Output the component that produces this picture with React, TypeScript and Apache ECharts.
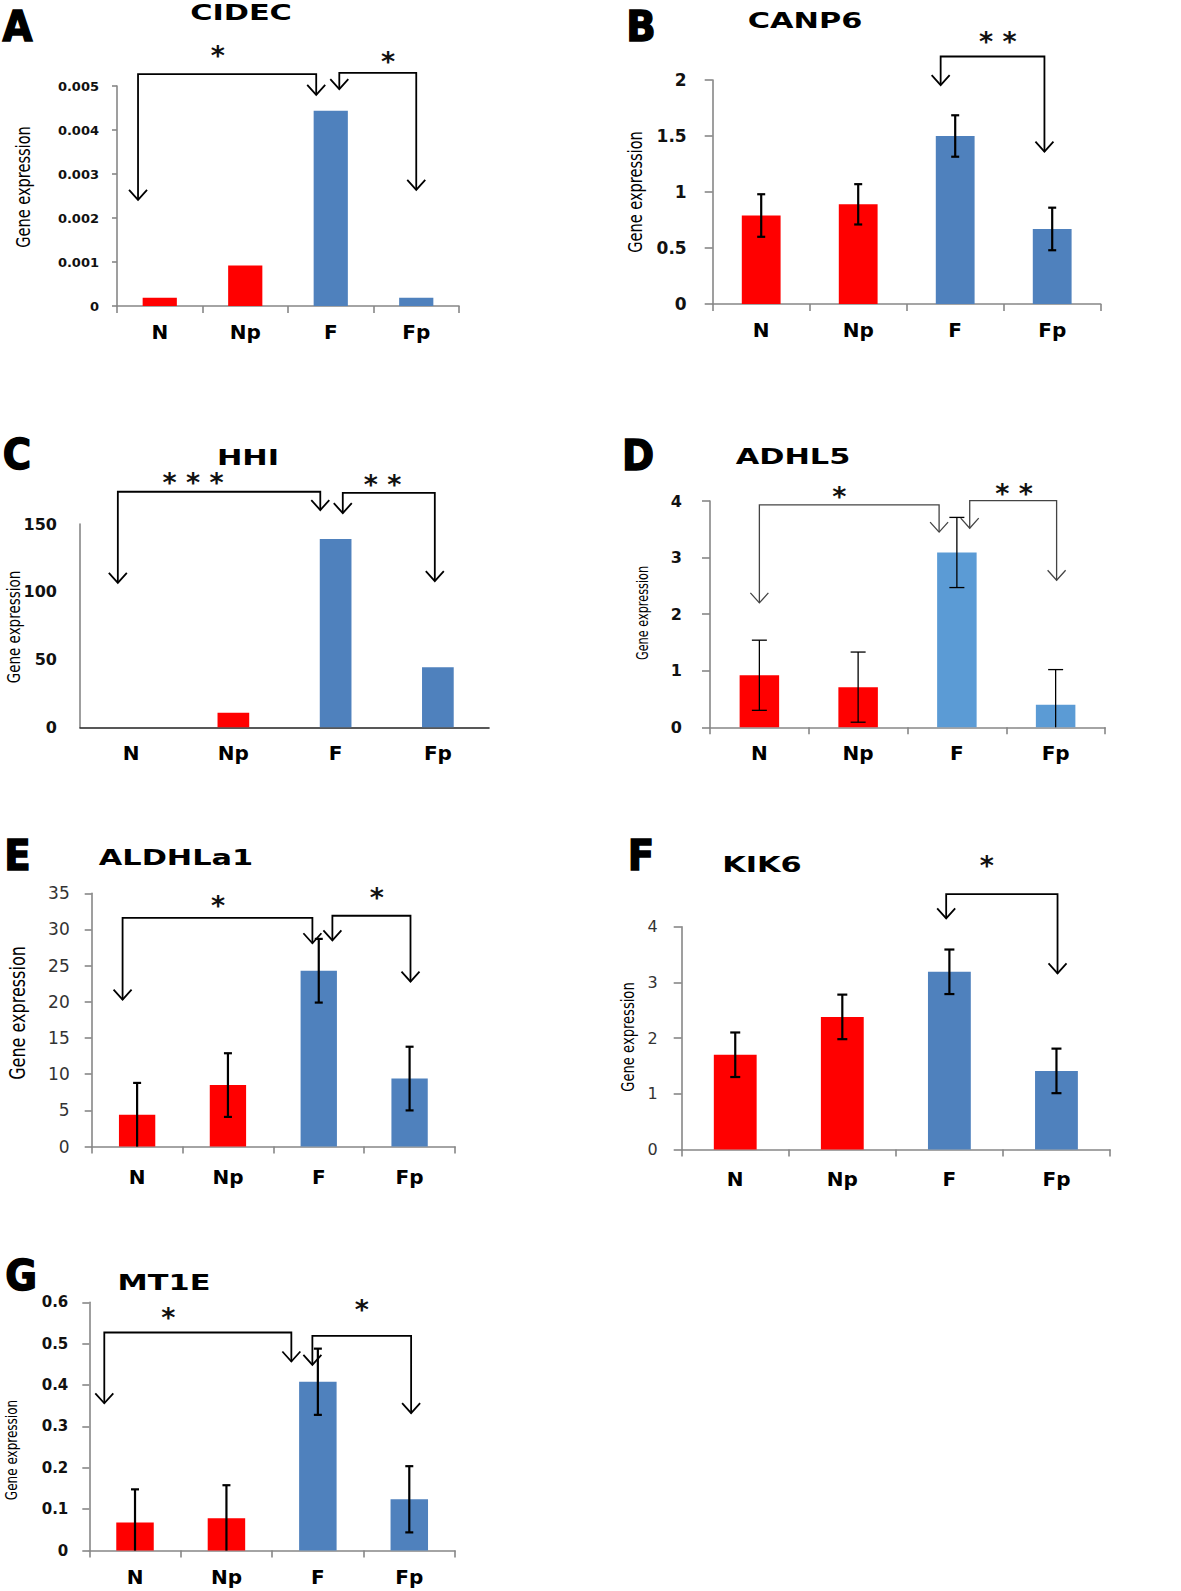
import React, { useEffect, useRef } from "react";
import * as echarts from "echarts";

// ---------------- data ----------------
const categories = ["N", "Np", "F", "Fp"];
const titles = ["CIDEC", "CANP6", "HHI", "ADHL5", "ALDHLa1", "KIK6", "MT1E"];
const letters = ["A", "B", "C", "D", "E", "F", "G"];

const colorsStd = ["#ff0000", "#ff0000", "#4f81bd", "#4f81bd"];
const colorsLight = ["#ff0000", "#ff0000", "#5b9bd5", "#5b9bd5"];

const valuesA = [0.00019, 0.00092, 0.00444, 0.00019];
const valuesB = [0.79, 0.89, 1.5, 0.67];
const errorsB = [0.19, 0.18, 0.185, 0.19];
const valuesC = [0, 10.8, 138.9, 44.3];
const valuesD = [0.92, 0.71, 3.09, 0.4];
const errorsD = [0.62, 0.62, 0.62, 0.62];
const valuesE = [4.4, 8.5, 24.3, 9.4];
const errorsE = [4.4, 4.4, 4.4, 4.4];
const valuesF = [1.7, 2.38, 3.19, 1.41];
const errorsF = [0.4, 0.4, 0.4, 0.4];
const valuesG = [0.068, 0.078, 0.408, 0.124];
const errorsG = [0.08, 0.08, 0.08, 0.08];

const yMax = [0.005, 2, 150, 4, 35, 4, 0.6];
const yInterval = [0.001, 0.5, 50, 1, 5, 1, 0.1];

// significance brackets: x in category units (0..4), y in value units
const bracketsA = [
  { x1: 0.246, x2: 2.33, y: 0.00527, t1: 0.00241, t2: 0.0048, star: "*", sx: 1.18, sy: 0.00582 },
  { x1: 2.6, x2: 3.5, y: 0.0053, t1: 0.00493, t2: 0.00264, star: "*", sx: 3.17, sy: 0.0057 },
];
const bracketsB = [
  { x1: 2.35, x2: 3.42, y: 2.21, t1: 1.955, t2: 1.36, star: "* *", sx: 2.94, sy: 2.4 },
];
const bracketsC = [
  { x1: 0.37, x2: 2.35, y: 173.8, t1: 106.5, t2: 160.3, star: "* * *", sx: 1.105, sy: 185.4 },
  { x1: 2.57, x2: 3.47, y: 172.9, t1: 158, t2: 107.9, star: "* *", sx: 2.96, sy: 183.6 },
];
const bracketsD = [
  { x1: 0.5, x2: 2.32, y: 3.93, t1: 2.2, t2: 3.45, star: "*", sx: 1.31, sy: 4.19 },
  { x1: 2.63, x2: 3.51, y: 4.005, t1: 3.52, t2: 2.6, star: "* *", sx: 3.08, sy: 4.23 },
];
const bracketsE = [
  { x1: 0.34, x2: 2.43, y: 31.6, t1: 20.3, t2: 28.1, star: "*", sx: 1.39, sy: 34.2 },
  { x1: 2.65, x2: 3.51, y: 31.9, t1: 28.5, t2: 22.8, star: "*", sx: 3.14, sy: 35.2 },
];
const bracketsF = [
  { x1: 2.47, x2: 3.51, y: 4.585, t1: 4.15, t2: 3.16, star: "*", sx: 2.85, sy: 5.21 },
];
const bracketsG = [
  { x1: 0.164, x2: 2.21, y: 0.527, t1: 0.356, t2: 0.457, star: "*", sx: 0.865, sy: 0.578 },
  { x1: 2.44, x2: 3.52, y: 0.519, t1: 0.449, t2: 0.332, star: "*", sx: 2.98, sy: 0.598 },
];

// ---------------- layout ----------------
const FONT = "'DejaVu Sans', Verdana, sans-serif";
const NARROW = "'DejaVu Sans Condensed', 'DejaVu Sans', sans-serif";
const AXIS_GRAY = "#878787";

const layout = [
  { left: 117, top: 86, width: 342, height: 220, tickBold: true, tickSize: 13, tickMargin: 18, tickLen: 5, xTicks: true, xColor: AXIS_GRAY, xMargin: 16, ylx: 23, yly: 187, ylSize: 20, cap: 0, elw: 0, bw: "40%", tx: 241, ty: 12, lx: 17.5, ly: 26, bColor: "#000", bLw: 1.8 },
  { left: 712.7, top: 80, width: 388, height: 224, tickBold: true, tickSize: 17, tickMargin: 26, tickLen: 8, xTicks: true, xColor: AXIS_GRAY, xMargin: 16, ylx: 635, yly: 192, ylSize: 20, cap: 4, elw: 2.2, bw: "40%", tx: 805, ty: 20, lx: 641, ly: 25.5, bColor: "#000", bLw: 1.8 },
  { left: 80, top: 524, width: 409, height: 203.3, tickBold: true, tickSize: 16, tickMargin: 23, tickLen: 0, xTicks: false, xColor: "#222", xMargin: 16, ylx: 13, yly: 627, ylSize: 18.5, cap: 0, elw: 0, bw: "31%", tx: 248, ty: 457, lx: 17, ly: 453.5, bColor: "#000", bLw: 1.8 },
  { left: 710, top: 501, width: 395, height: 226.3, tickBold: true, tickSize: 16, tickMargin: 28, tickLen: 8, xTicks: true, xColor: AXIS_GRAY, xMargin: 16, ylx: 643, yly: 613, ylSize: 15.5, cap: 7.5, elw: 1.3, bw: "40%", tx: 793, ty: 456, lx: 638, ly: 454.5, bColor: "#444", bLw: 1.3 },
  { left: 91.7, top: 893.3, width: 363.3, height: 253.3, tickBold: false, tickSize: 17, tickMargin: 22, tickLen: 7, xTicks: true, xColor: AXIS_GRAY, xMargin: 20, ylx: 17, yly: 1013, ylSize: 22, cap: 4, elw: 2.2, bw: "40%", tx: 176, ty: 857, lx: 17.5, ly: 855, bColor: "#000", bLw: 1.8 },
  { left: 681.7, top: 926.7, width: 428.3, height: 222.7, tickBold: false, tickSize: 16, tickMargin: 24, tickLen: 8, xTicks: true, xColor: AXIS_GRAY, xMargin: 20, ylx: 628, yly: 1037, ylSize: 18, cap: 5, elw: 2.2, bw: "40%", tx: 762, ty: 864, lx: 641, ly: 855, bColor: "#000", bLw: 1.8 },
  { left: 89.3, top: 1302.3, width: 365.7, height: 248.3, tickBold: true, tickSize: 15, tickMargin: 21, tickLen: 7, xTicks: true, xColor: AXIS_GRAY, xMargin: 16, ylx: 12, yly: 1450, ylSize: 16.5, cap: 4, elw: 2.2, bw: "41%", tx: 164, ty: 1282, lx: 21, ly: 1274.5, bColor: "#000", bLw: 1.8 },
];

const panelData = [
  { values: valuesA, errors: null as number[] | null, colors: colorsStd, brackets: bracketsA },
  { values: valuesB, errors: errorsB, colors: colorsStd, brackets: bracketsB },
  { values: valuesC, errors: null, colors: colorsStd, brackets: bracketsC },
  { values: valuesD, errors: errorsD, colors: colorsLight, brackets: bracketsD },
  { values: valuesE, errors: errorsE, colors: colorsStd, brackets: bracketsE },
  { values: valuesF, errors: errorsF, colors: colorsStd, brackets: bracketsF },
  { values: valuesG, errors: errorsG, colors: colorsStd, brackets: bracketsG },
];

function errorRender(capHalf: number, lw: number) {
  return (_params: any, api: any) => {
    const i = api.value(0);
    const v = api.value(1);
    const e = api.value(2);
    const hi = api.coord([i, v + e]);
    const lo = api.coord([i, Math.max(0, v - e)]);
    const st = { stroke: "#000", lineWidth: lw };
    const children: any[] = [
      { type: "line", shape: { x1: hi[0], y1: hi[1], x2: lo[0], y2: lo[1] }, style: st },
      { type: "line", shape: { x1: hi[0] - capHalf, y1: hi[1], x2: hi[0] + capHalf, y2: hi[1] }, style: st },
    ];
    if (v - e > 0) {
      children.push({ type: "line", shape: { x1: lo[0] - capHalf, y1: lo[1], x2: lo[0] + capHalf, y2: lo[1] }, style: st });
    }
    return { type: "group", children };
  };
}

function buildOption() {
  const grid: any[] = [];
  const xAxis: any[] = [];
  const yAxis: any[] = [];
  const series: any[] = [];
  const graphic: any[] = [];

  panelData.forEach((p, k) => {
    const L = layout[k];
    grid.push({ left: L.left, top: L.top, width: L.width, height: L.height, containLabel: false });
    xAxis.push({
      type: "category",
      gridIndex: k,
      data: categories,
      axisLine: { show: true, lineStyle: { color: L.xColor, width: 1.6 } },
      axisTick: { show: L.xTicks, length: 7, lineStyle: { color: AXIS_GRAY, width: 1.6 } },
      axisLabel: { margin: L.xMargin, fontFamily: FONT, fontWeight: "bold", fontSize: 20, color: "#000" },
      splitLine: { show: false },
    });
    yAxis.push({
      type: "value",
      gridIndex: k,
      min: 0,
      max: yMax[k],
      interval: yInterval[k],
      axisLine: { show: true, lineStyle: { color: AXIS_GRAY, width: 1.6 } },
      axisTick: { show: L.tickLen > 0, length: L.tickLen, lineStyle: { color: AXIS_GRAY, width: 1.6 } },
      axisLabel: {
        margin: L.tickMargin,
        fontFamily: FONT,
        fontWeight: L.tickBold ? "bold" : "normal",
        fontSize: L.tickSize,
        color: L.tickBold ? "#111" : "#333",
      },
      splitLine: { show: false },
    });
    series.push({
      type: "bar",
      xAxisIndex: k,
      yAxisIndex: k,
      barWidth: L.bw,
      z: 2,
      data: p.values.map((v, i) => ({ value: v, itemStyle: { color: p.colors[i] } })),
    });
    if (p.errors) {
      series.push({
        type: "custom",
        xAxisIndex: k,
        yAxisIndex: k,
        z: 5,
        encode: { x: 0, y: 1 },
        renderItem: errorRender(L.cap, L.elw),
        data: p.values.map((v, i) => [i, v, p.errors![i]]),
      });
    }

    const X = (u: number) => L.left + (u * L.width) / 4;
    const Y = (v: number) => L.top + L.height * (1 - v / yMax[k]);
    const bst = { stroke: L.bColor, lineWidth: L.bLw, fill: null };
    const head = (x: number, y: number) => ({
      type: "polyline",
      z: 100,
      shape: { points: [[x - 9, y - 10], [x, y], [x + 9, y - 10]] },
      style: bst,
    });
    p.brackets.forEach((b) => {
      graphic.push({
        type: "polyline",
        z: 100,
        shape: { points: [[X(b.x1), Y(b.t1)], [X(b.x1), Y(b.y)], [X(b.x2), Y(b.y)], [X(b.x2), Y(b.t2)]] },
        style: bst,
      });
      graphic.push(head(X(b.x1), Y(b.t1)));
      graphic.push(head(X(b.x2), Y(b.t2)));
      graphic.push({
        type: "text",
        z: 100,
        x: X(b.sx),
        y: Y(b.sy) + 6,
        style: { text: b.star, fontFamily: FONT, fontWeight: "bold", fontSize: 27, fill: "#111", align: "center", verticalAlign: "middle" },
      });
    });

    // title
    graphic.push({
      type: "text",
      z: 100,
      x: L.tx,
      y: L.ty,
      scaleX: 1.38,
      style: { text: titles[k], fontFamily: FONT, fontWeight: "bold", fontSize: 22, fill: "#000", align: "center", verticalAlign: "middle" },
    });
    // panel letter
    graphic.push({
      type: "text",
      z: 100,
      x: L.lx,
      y: L.ly,
      style: { text: letters[k], fontFamily: NARROW, fontWeight: "bold", fontSize: 43, fill: "#000", stroke: "#000", lineWidth: 1.4, align: "center", verticalAlign: "middle" },
    });
    // y axis name
    graphic.push({
      type: "text",
      z: 100,
      x: L.ylx,
      y: L.yly,
      rotation: Math.PI / 2,
      scaleX: 0.81,
      style: { text: "Gene expression", fontFamily: NARROW, fontSize: L.ylSize, fill: "#000", align: "center", verticalAlign: "middle" },
    });
  });

  return { animation: false, backgroundColor: "#fff", grid, xAxis, yAxis, series, graphic };
}

export default function App() {
  const ref = useRef<HTMLDivElement>(null);
  useEffect(() => {
    document.body.style.margin = "0";
    document.body.style.overflow = "hidden";
    const chart = echarts.init(ref.current!, null, { renderer: "svg" });
    chart.setOption(buildOption() as any);
    return () => chart.dispose();
  }, []);
  return <div ref={ref} style={{ width: 1181, height: 1591, background: "#fff" }} />;
}
